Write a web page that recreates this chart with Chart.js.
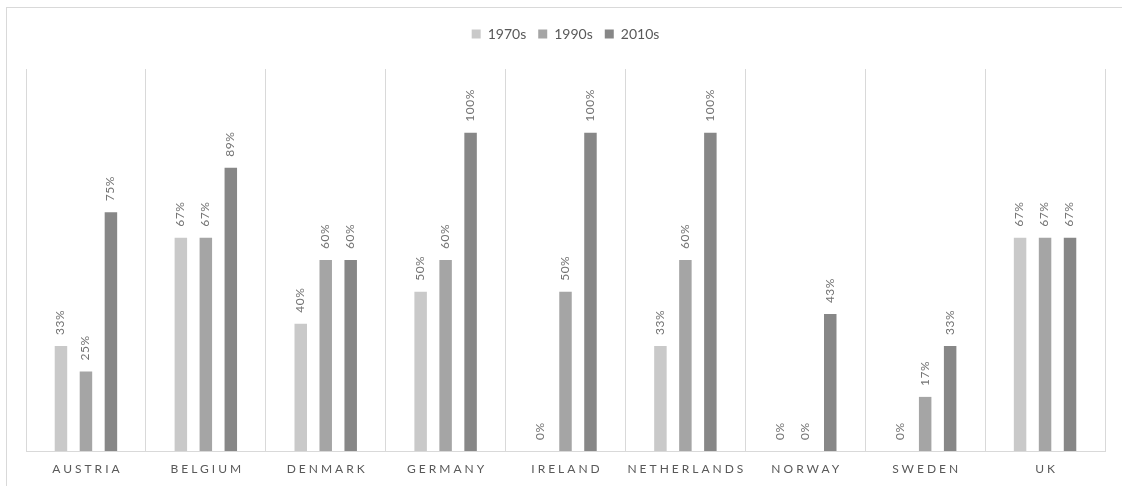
<!DOCTYPE html>
<html>
<head>
<meta charset="utf-8">
<script src="https://cdn.jsdelivr.net/npm/chart.js@4.4.1/dist/chart.umd.min.js"></script>
<style>
  html, body { margin: 0; padding: 0; background: #fff; width: 1122px; height: 486px; overflow: hidden; }
  #frame { position: absolute; left: 6px; top: 7px; width: 1300px; height: 700px;
           border-top: 1px solid #d9d9d9; border-left: 1px solid #d9d9d9; }
  #wrap { position: absolute; left: 0; top: 0; width: 1122px; height: 486px; }
</style>
</head>
<body>
<div id="frame"></div>
<div id="wrap"><canvas id="c" width="1122" height="486"></canvas></div>
<script>
// Share of cases per country, by decade (percent)
const countries = ['Austria', 'Belgium', 'Denmark', 'Germany', 'Ireland', 'Netherlands', 'Norway', 'Sweden', 'UK'];
const decades = ['1970s', '1990s', '2010s'];
const share1970s = [33, 67, 40, 50, 0, 33, 0, 0, 67];
const share1990s = [25, 67, 60, 60, 50, 60, 0, 17, 67];
const share2010s = [75, 89, 60, 100, 100, 100, 43, 33, 67];
const barColors = ['#c9c9c9', '#a5a5a5', '#878787'];

const FONT = 'Lato, "Open Sans", sans-serif';

// Extra room between the legend and the plot
const legendGap = {
  id: 'legendGap',
  beforeInit(chart) {
    const lg = chart.legend;
    if (!lg) return;
    const fit = lg.fit;
    lg.fit = function () { fit.call(this); this.height += 18; };
  }
};

// Rotated percentage labels above each bar
const valueLabels = {
  id: 'valueLabels',
  afterDatasetsDraw(chart) {
    const ctx = chart.ctx;
    ctx.save();
    ctx.font = '12px ' + FONT;
    ctx.fillStyle = '#737373';
    ctx.textAlign = 'left';
    ctx.textBaseline = 'middle';
    if ('letterSpacing' in ctx) ctx.letterSpacing = '0.5px';
    chart.data.datasets.forEach((ds, di) => {
      chart.getDatasetMeta(di).data.forEach((bar, i) => {
        ctx.save();
        ctx.translate(bar.x - 0.5, bar.y - 11);
        ctx.rotate(-Math.PI / 2);
        ctx.fillText(ds.data[i] + '%', 0, 0);
        ctx.restore();
      });
    });
    ctx.restore();
  }
};

// Spaced capital category names under the axis
const categoryLabels = {
  id: 'categoryLabels',
  afterDraw(chart) {
    const ctx = chart.ctx;
    const x = chart.scales.x;
    const spacing = 3;
    ctx.save();
    ctx.font = '12px ' + FONT;
    ctx.fillStyle = '#595959';
    ctx.textAlign = 'center';
    ctx.textBaseline = 'middle';
    if ('letterSpacing' in ctx) ctx.letterSpacing = spacing + 'px';
    chart.data.labels.forEach((name, i) => {
      ctx.fillText(name.toUpperCase(), x.getPixelForTick(i) + spacing / 2, chart.chartArea.bottom + 18);
    });
    ctx.restore();
  }
};

new Chart(document.getElementById('c'), {
  type: 'bar',
  data: {
    labels: countries,
    datasets: [
      { label: decades[0], data: share1970s, backgroundColor: barColors[0] },
      { label: decades[1], data: share1990s, backgroundColor: barColors[1] },
      { label: decades[2], data: share2010s, backgroundColor: barColors[2] }
    ]
  },
  options: {
    responsive: false,
    animation: false,
    layout: { padding: { left: 26, right: 17, top: 15, bottom: 35 } },
    datasets: { bar: { categoryPercentage: 0.625, barPercentage: 0.5 } },
    plugins: {
      legend: {
        position: 'top',
        labels: {
          boxWidth: 9, boxHeight: 9, padding: 12,
          color: '#595959',
          font: { family: FONT, size: 14 }
        }
      },
      tooltip: { enabled: false }
    },
    scales: {
      x: {
        grid: { color: '#d9d9d9', offset: true, drawTicks: false },
        border: { color: '#d9d9d9' },
        ticks: { display: false }
      },
      y: { display: false, min: 0, max: 120 }
    }
  },
  plugins: [legendGap, valueLabels, categoryLabels]
});
</script>
</body>
</html>
